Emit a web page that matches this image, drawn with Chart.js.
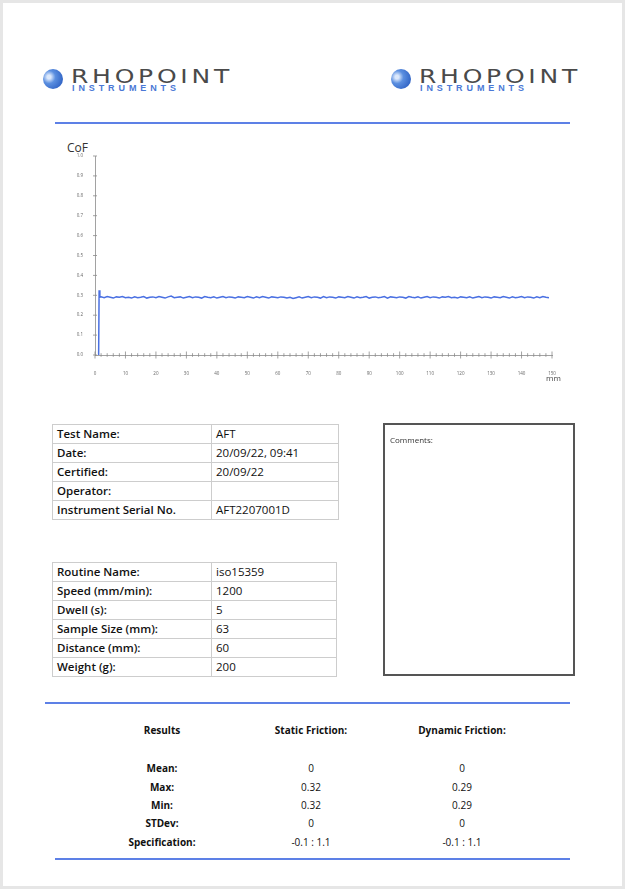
<!DOCTYPE html>
<html lang="en">
<head>
  <meta charset="UTF-8">
  <title>CoF Report</title>
  <script src="https://cdn.jsdelivr.net/npm/chart.js"></script>
  <style>
    html, body { margin: 0; padding: 0; }
    body { width: 625px; height: 889px; background: #e6e6e6; position: relative; overflow: hidden; font-family: "Open Sans", sans-serif; color: #111; }
    .page { position: absolute; left: 3px; top: 3px; width: 619px; height: 883px; background: #fff; }
    .abs { position: absolute; }
    .logo-icon { width: 20px; height: 20px; border-radius: 50%; background: radial-gradient(circle at 30% 40%, #dbe8fc 0 10%, #5b8fe0 35%, #1c4fb8 100%); }
    .logo-word { font-family: "DejaVu Sans", sans-serif; font-weight: normal; font-size: 20px; letter-spacing: 3px; color: #4a4a4a; line-height: 1; transform: scaleX(1.25); transform-origin: left top; }
    .logo-sub { font-family: "Liberation Sans", sans-serif; font-weight: bold; font-size: 9px; letter-spacing: 3.9px; color: #4a78d6; line-height: 1; }
    .rule { height: 2px; background: #5d80e6; }
    table.info { border-collapse: collapse; font-size: 11.5px; }
    table.info td { border: 1px solid #cdcdcd; height: 18px; padding: 0 0 0 4px; line-height: 18px; white-space: nowrap; }
    table.info td.k { font-weight: 600; }
    .res { font-size: 10px; text-align: center; width: 140px; line-height: 12px; }
    .b { font-weight: 700; }
  </style>
</head>
<body>
  <div class="page"></div>

  <!-- logos -->
  <div class="abs logo-icon" style="left:43px;top:69px;"></div>
  <div class="abs logo-word" style="left:71px;top:66px;">RHOPOINT</div>
  <div class="abs logo-sub" style="left:72px;top:84px;">INSTRUMENTS</div>
  <div class="abs logo-icon" style="left:391px;top:69px;"></div>
  <div class="abs logo-word" style="left:419px;top:66px;">RHOPOINT</div>
  <div class="abs logo-sub" style="left:420px;top:84px;">INSTRUMENTS</div>

  <div class="abs rule" style="left:55px;top:122px;width:515px;"></div>

  <!-- chart -->
  <div class="abs" style="left:67px;top:139px;font-size:12px;color:#333;">CoF</div>
  <div class="abs" style="left:60px;top:146px;width:520px;height:240px;">
    <canvas id="cofChart"></canvas>
  </div>
  <div class="abs" style="left:546px;top:372px;font-size:8px;color:#444;">mm</div>

  <!-- test info -->
  <table class="info abs" style="left:52px;top:424px;width:287px;">
    <tr><td class="k" style="width:154px;">Test Name:</td><td>AFT</td></tr>
    <tr><td class="k">Date:</td><td>20/09/22, 09:41</td></tr>
    <tr><td class="k">Certified:</td><td>20/09/22</td></tr>
    <tr><td class="k">Operator:</td><td></td></tr>
    <tr><td class="k">Instrument Serial No.</td><td>AFT2207001D</td></tr>
  </table>

  <table class="info abs" style="left:52px;top:562px;width:285px;">
    <tr><td class="k" style="width:154px;">Routine Name:</td><td>iso15359</td></tr>
    <tr><td class="k">Speed (mm/min):</td><td>1200</td></tr>
    <tr><td class="k">Dwell (s):</td><td>5</td></tr>
    <tr><td class="k">Sample Size (mm):</td><td>63</td></tr>
    <tr><td class="k">Distance (mm):</td><td>60</td></tr>
    <tr><td class="k">Weight (g):</td><td>200</td></tr>
  </table>

  <div class="abs" style="left:383px;top:423px;width:188px;height:249px;border:2px solid #555;">
    <div style="position:absolute;left:5px;top:9px;font-size:8px;color:#333;">Comments:</div>
  </div>

  <div class="abs rule" style="left:45px;top:702px;width:525px;"></div>

  <!-- results -->
  <div class="abs res b" style="left:92px;top:724px;">Results</div>
  <div class="abs res b" style="left:241px;top:724px;">Static Friction:</div>
  <div class="abs res b" style="left:392px;top:724px;">Dynamic Friction:</div>
  <div id="results"></div>

  <div class="abs rule" style="left:55px;top:858px;width:515px;"></div>

  <script>
    // results table
    const resultLabels = ['Mean:', 'Max:', 'Min:', 'STDev:', 'Specification:'];
    const staticValues = ['0', '0.32', '0.32', '0', '-0.1 : 1.1'];
    const dynamicValues = ['0', '0.29', '0.29', '0', '-0.1 : 1.1'];
    const resultRowsTop = [762, 781, 799, 817, 836];

    // chart data
    const yTickLabels = ['0.0', '0.1', '0.2', '0.3', '0.4', '0.5', '0.6', '0.7', '0.8', '0.9', '1.0'];
    const xTickLabels = ['0', '10', '20', '30', '40', '50', '60', '70', '80', '90', '100', '110', '120', '130', '140', '150'];

    const xMm = [1.0, 1.2, 1.35, 1.6,
      2, 3, 4, 5, 6, 7, 8, 9, 10, 11,
      12, 13, 14, 15, 16, 17, 18, 19, 20, 21,
      22, 23, 24, 25, 26, 27, 28, 29, 30, 31,
      32, 33, 34, 35, 36, 37, 38, 39, 40, 41,
      42, 43, 44, 45, 46, 47, 48, 49, 50, 51,
      52, 53, 54, 55, 56, 57, 58, 59, 60, 61,
      62, 63, 64, 65, 66, 67, 68, 69, 70, 71,
      72, 73, 74, 75, 76, 77, 78, 79, 80, 81,
      82, 83, 84, 85, 86, 87, 88, 89, 90, 91,
      92, 93, 94, 95, 96, 97, 98, 99, 100, 101,
      102, 103, 104, 105, 106, 107, 108, 109, 110, 111,
      112, 113, 114, 115, 116, 117, 118, 119, 120, 121,
      122, 123, 124, 125, 126, 127, 128, 129, 130, 131,
      132, 133, 134, 135, 136, 137, 138, 139, 140, 141,
      142, 143, 144, 145, 146, 147, 148, 149];

    const cof = [0.0, 0.005, 0.325, 0.290,
      .292, .288, .294, .290, .286, .292, .290, .294, .288, .290,
      .286, .292, .288, .290, .294, .286, .290, .292, .288, .294,
      .290, .286, .292, .296, .288, .290, .292, .286, .290, .294,
      .288, .292, .290, .286, .294, .290, .288, .292, .286, .290,
      .294, .288, .292, .290, .286, .292, .290, .288, .294, .290,
      .286, .292, .288, .294, .290, .286, .292, .290, .288, .292,
      .290, .286, .290, .284, .288, .292, .286, .290, .294, .288,
      .292, .290, .286, .294, .288, .292, .290, .286, .292, .290,
      .288, .294, .290, .286, .292, .288, .290, .294, .286, .290,
      .292, .288, .290, .294, .286, .292, .290, .288, .292, .290,
      .286, .294, .290, .288, .292, .286, .290, .294, .288, .292,
      .290, .286, .292, .290, .294, .288, .290, .286, .292, .290,
      .288, .292, .286, .290, .294, .288, .292, .290, .286, .292,
      .290, .288, .294, .290, .286, .292, .288, .290, .294, .288,
      .292, .290, .286, .292, .288, .294, .290, .288];

    const resHolder = document.getElementById('results');
    resultLabels.forEach((label, i) => {
      const top = resultRowsTop[i];
      resHolder.insertAdjacentHTML('beforeend',
        `<div class="abs res b" style="left:92px;top:${top}px;">${label}</div>` +
        `<div class="abs res" style="left:241px;top:${top}px;">${staticValues[i]}</div>` +
        `<div class="abs res" style="left:392px;top:${top}px;">${dynamicValues[i]}</div>`);
    });

    // tick marks that cross the axis line
    const crossTicks = {
      id: 'crossTicks',
      afterDraw(chart) {
        const ctx = chart.ctx;
        const xs = chart.scales.x;
        const ys = chart.scales.y;
        ctx.save();
        ctx.strokeStyle = '#8a8a8a';
        ctx.lineWidth = 0.8;
        ctx.beginPath();
        xs.ticks.forEach(t => {
          const px = xs.getPixelForValue(t.value);
          const len = xTickLabels.includes(String(t.value)) ? 3.5 : 1.8;
          ctx.moveTo(px, ys.bottom - len);
          ctx.lineTo(px, ys.bottom + len);
        });
        ys.ticks.forEach(t => {
          const py = ys.getPixelForValue(t.value);
          ctx.moveTo(xs.left - 2, py);
          ctx.lineTo(xs.left + 2, py);
        });
        ctx.stroke();
        ctx.restore();
      }
    };

    new Chart(document.getElementById('cofChart'), {
      type: 'line',
      data: {
        datasets: [{
          data: xMm.map((x, i) => ({ x: x, y: cof[i] })),
          borderColor: '#4a70e2',
          borderWidth: 1.5,
          pointRadius: 0,
          tension: 0,
          fill: false
        }]
      },
      options: {
        responsive: true,
        maintainAspectRatio: false,
        animation: false,
        layout: { padding: { top: 10, right: 28, left: 0, bottom: 0 } },
        plugins: { legend: { display: false }, tooltip: { enabled: false } },
        scales: {
          x: {
            type: 'linear',
            min: 0,
            max: 150,
            afterFit: s => { s.height = 31; },
            grid: { display: false },
            border: { display: true, color: '#8a8a8a', width: 0.8 },
            ticks: {
              stepSize: 2,
              autoSkip: false,
              maxRotation: 0,
              padding: 8,
              color: '#666',
              font: { size: 4.5, family: 'Open Sans' },
              callback: v => xTickLabels.includes(String(v)) ? String(v) : ''
            }
          },
          y: {
            min: 0,
            max: 1,
            afterFit: s => { s.width = 35; },
            grid: { display: false },
            border: { display: true, color: '#8a8a8a', width: 0.8 },
            ticks: {
              stepSize: 0.1,
              padding: 4,
              color: '#666',
              font: { size: 4.5, family: 'Open Sans' },
              callback: (v, i) => yTickLabels[i]
            }
          }
        }
      },
      plugins: [crossTicks]
    });
  </script>
</body>
</html>
